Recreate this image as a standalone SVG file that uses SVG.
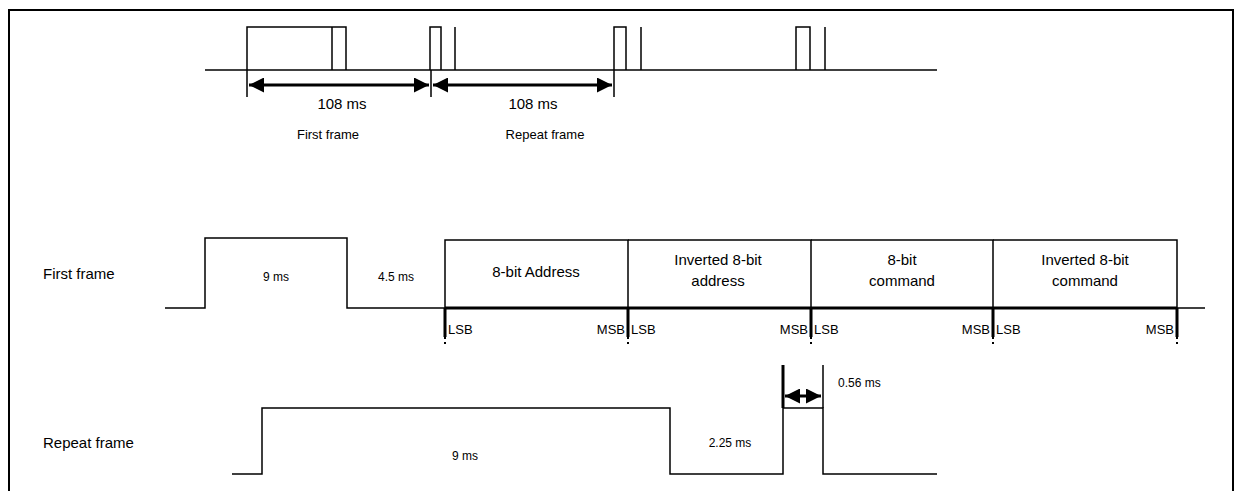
<svg xmlns="http://www.w3.org/2000/svg" width="1235" height="491" viewBox="0 0 1235 491">
<style>
  .w{fill:none;stroke:#000;stroke-width:1.5}
  .thick{fill:none;stroke:#000;stroke-width:3}
  .t{font-family:"Liberation Sans",Arial,sans-serif;font-size:15px;fill:#000}
  .s{font-family:"Liberation Sans",Arial,sans-serif;font-size:12px;fill:#000}
  .m{text-anchor:middle}
</style>
<defs>
  <marker id="ah" viewBox="0 0 10 10" refX="10" refY="5" markerWidth="15" markerHeight="15" markerUnits="userSpaceOnUse" orient="auto-start-reverse">
    <path d="M0,0 L10,5 L0,10 Z" fill="#000"/>
  </marker>
</defs>
<rect width="1235" height="491" fill="#fff"/>
<path d="M9,491 V10 H1233 V491" fill="none" stroke="#000" stroke-width="2"/>

<g id="top-waveform">
  <path class="w" d="M205,70 H937"/>
  <path class="w" d="M247,70 V27 H346 V70 M332,27 V70"/>
  <path class="w" d="M430,70 V27 H441 V70 M455,27 V70"/>
  <path class="w" d="M614,70 V27 H626 V70 M641,27 V70"/>
  <path class="w" d="M796,70 V27 H810 V70 M825,27 V70"/>
</g>
<g id="connectors">
  <path class="w" d="M247,70 V97 M431,70 V97 M614,70 V97"/>
  <path class="thick" d="M249,85 H429" marker-start="url(#ah)" marker-end="url(#ah)"/>
  <path class="thick" d="M433,85 H612" marker-start="url(#ah)" marker-end="url(#ah)"/>
  <path fill="none" stroke="#000" stroke-width="3" d="M783,365 V408"/>
  <path class="w" d="M823,365 V408"/>
  <path class="thick" d="M785,396 H821" marker-start="url(#ah)" marker-end="url(#ah)"/>
</g>
<g id="top-labels">
  <text class="t m" x="342" y="109">108 ms</text>
  <text class="s m" x="328" y="139" style="font-size:13px">First frame</text>
  <text class="t m" x="533" y="109">108 ms</text>
  <text class="s m" x="545" y="139" style="font-size:13px">Repeat frame</text>
</g>

<g id="first-frame">
  <text class="t" x="43" y="279">First frame</text>
  <path class="w" d="M165,308 H205 V238 H347 V308 H445"/>
  <text class="s m" x="276" y="281">9 ms</text>
  <text class="s m" x="396" y="281">4.5 ms</text>
  <path class="w" d="M1177,308 H1205"/>
</g>
<g id="address">
  <path class="w" d="M445,308 V240 H628 V308"/>
  <text class="t m" x="536" y="277">8-bit Address</text>
</g>
<g id="inv-address">
  <path class="w" d="M628,240 H811 V308"/>
  <text class="t m" x="718" y="265">Inverted 8-bit</text>
  <text class="t m" x="718" y="286">address</text>
</g>
<g id="command">
  <path class="w" d="M811,240 H993 V308"/>
  <text class="t m" x="902" y="265">8-bit</text>
  <text class="t m" x="902" y="286">command</text>
</g>
<g id="inv-command">
  <path class="w" d="M993,240 H1177 V308"/>
  <text class="t m" x="1085" y="265">Inverted 8-bit</text>
  <text class="t m" x="1085" y="286">command</text>
</g>
<g id="bit-order">
  <path class="thick" d="M445,308 H1177"/>
  <path class="thick" d="M445,308 V337 M628,308 V337 M811,308 V337 M993,308 V337 M1177,308 V337"/>
  <path fill="none" stroke="#000" stroke-width="2" stroke-dasharray="2,3" d="M445,337 V346 M628,337 V346 M811,337 V346 M993,337 V346 M1177,337 V346"/>
  <text class="s" x="448" y="334" style="font-size:13px">LSB</text>
  <text class="s" x="625" y="334" text-anchor="end" style="font-size:13px">MSB</text>
  <text class="s" x="631" y="334" style="font-size:13px">LSB</text>
  <text class="s" x="808" y="334" text-anchor="end" style="font-size:13px">MSB</text>
  <text class="s" x="814" y="334" style="font-size:13px">LSB</text>
  <text class="s" x="990" y="334" text-anchor="end" style="font-size:13px">MSB</text>
  <text class="s" x="996" y="334" style="font-size:13px">LSB</text>
  <text class="s" x="1174" y="334" text-anchor="end" style="font-size:13px">MSB</text>
</g>

<g id="repeat-frame">
  <text class="t" x="43" y="448">Repeat frame</text>
  <path class="w" d="M232,474 H262 V408 H670 V474 H783 V408 H823 V474 H937"/>
  <text class="s m" x="465" y="460">9 ms</text>
  <text class="s m" x="730" y="447">2.25 ms</text>
  <text class="s" x="838" y="387">0.56 ms</text>
</g>
</svg>
